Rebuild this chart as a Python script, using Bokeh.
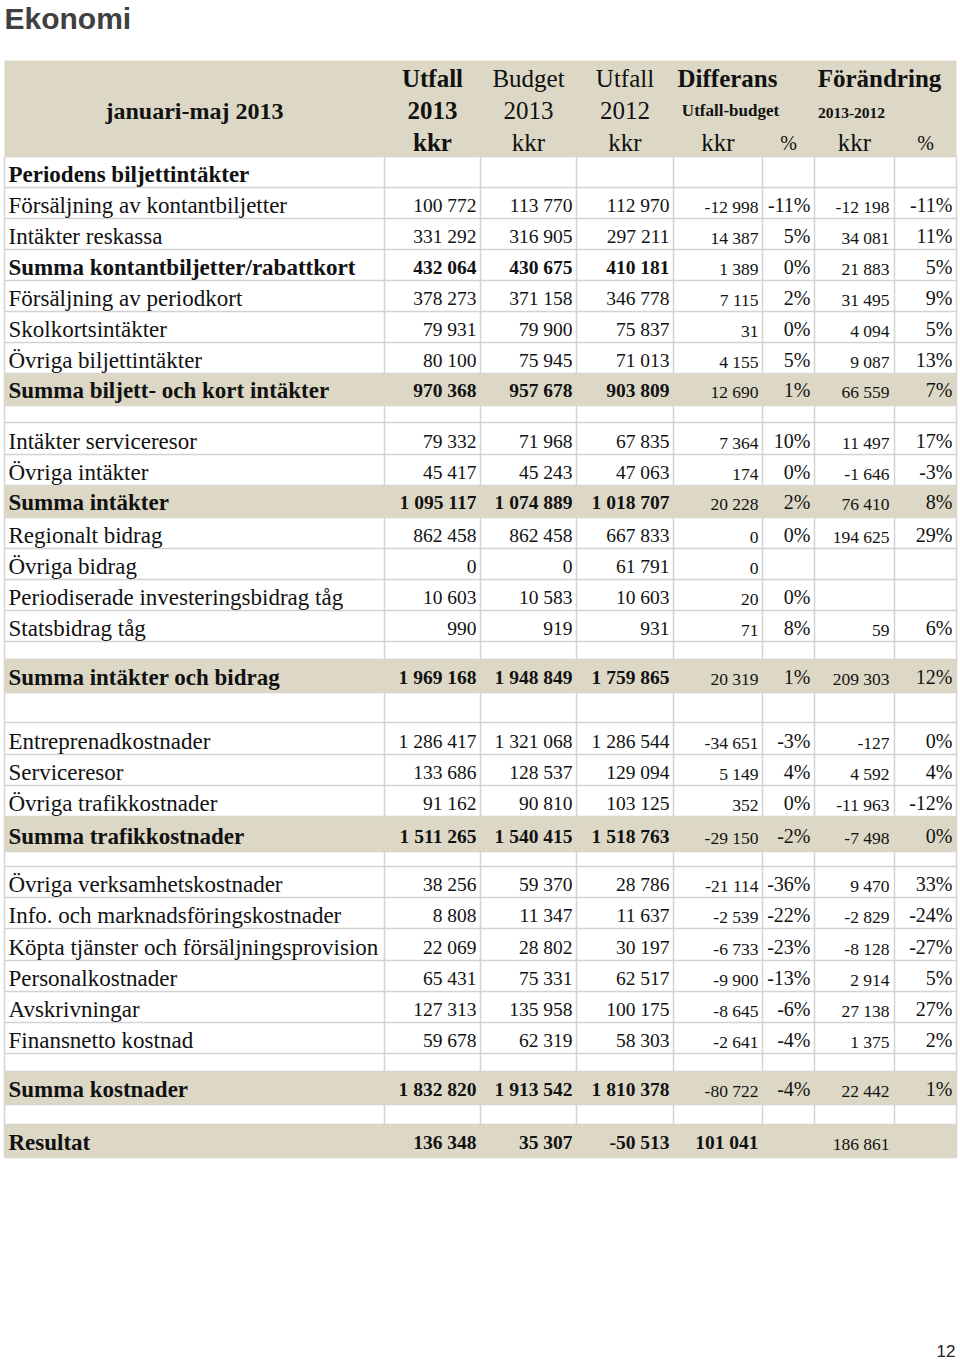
from bokeh.plotting import figure
from bokeh.models import ColumnDataSource, Range1d
from bokeh.core.properties import value
from bokeh.embed import file_html
from bokeh.resources import INLINE

# ---------------- data ----------------
page_title = "Ekonomi"
period_label = "januari-maj 2013"
page_number = "12"

head_line1 = ["Utfall", "Budget", "Utfall", "Differans", "Förändring"]
head_line2 = ["2013", "2013", "2012", "Utfall-budget", "2013-2012"]
head_line3 = ["kkr", "kkr", "kkr", "kkr", "%", "kkr", "%"]

labels = [
    "Periodens  biljettintäkter",
    "Försäljning av kontantbiljetter",
    "Intäkter reskassa",
    "Summa kontantbiljetter/rabattkort",
    "Försäljning av periodkort",
    "Skolkortsintäkter",
    "Övriga biljettintäkter",
    "Summa biljett- och kort intäkter",
    "",
    "Intäkter serviceresor",
    "Övriga intäkter",
    "Summa intäkter",
    "Regionalt bidrag",
    "Övriga bidrag",
    "Periodiserade investeringsbidrag tåg",
    "Statsbidrag tåg",
    "",
    "Summa intäkter och bidrag",
    "",
    "Entreprenadkostnader",
    "Serviceresor",
    "Övriga trafikkostnader",
    "Summa trafikkostnader",
    "",
    "Övriga verksamhetskostnader",
    "Info. och marknadsföringskostnader",
    "Köpta tjänster och försäljningsprovision",
    "Personalkostnader",
    "Avskrivningar",
    "Finansnetto kostnad",
    "",
    "Summa kostnader",
    "",
    "Resultat",
]
# row kind: head / row / bold / sum (shaded) / blank / result (shaded)
kinds = ["head", "row", "row", "bold", "row", "row", "row", "sum", "blank",
         "row", "row", "sum", "row", "row", "row", "row", "blank", "sum", "blank",
         "row", "row", "row", "sum", "blank", "row", "row", "row", "row", "row",
         "row", "blank", "sum", "blank", "result"]

utfall_2013 = [None, 100772, 331292, 432064, 378273, 79931, 80100, 970368, None,
               79332, 45417, 1095117, 862458, 0, 10603, 990, None, 1969168, None,
               1286417, 133686, 91162, 1511265, None, 38256, 8808, 22069, 65431,
               127313, 59678, None, 1832820, None, 136348]
budget_2013 = [None, 113770, 316905, 430675, 371158, 79900, 75945, 957678, None,
               71968, 45243, 1074889, 862458, 0, 10583, 919, None, 1948849, None,
               1321068, 128537, 90810, 1540415, None, 59370, 11347, 28802, 75331,
               135958, 62319, None, 1913542, None, 35307]
utfall_2012 = [None, 112970, 297211, 410181, 346778, 75837, 71013, 903809, None,
               67835, 47063, 1018707, 667833, 61791, 10603, 931, None, 1759865, None,
               1286544, 129094, 103125, 1518763, None, 28786, 11637, 30197, 62517,
               100175, 58303, None, 1810378, None, -50513]
diff_kkr = [None, -12998, 14387, 1389, 7115, 31, 4155, 12690, None,
            7364, 174, 20228, 0, 0, 20, 71, None, 20319, None,
            -34651, 5149, 352, -29150, None, -21114, -2539, -6733, -9900,
            -8645, -2641, None, -80722, None, 101041]
diff_pct = [None, -11, 5, 0, 2, 0, 5, 1, None,
            10, 0, 2, 0, None, 0, 8, None, 1, None,
            -3, 4, 0, -2, None, -36, -22, -23, -13,
            -6, -4, None, -4, None, None]
chg_kkr = [None, -12198, 34081, 21883, 31495, 4094, 9087, 66559, None,
           11497, -1646, 76410, 194625, None, None, 59, None, 209303, None,
           -127, 4592, -11963, -7498, None, 9470, -2829, -8128, 2914,
           27138, 1375, None, 22442, None, 186861]
chg_pct = [None, -11, 11, 5, 9, 5, 13, 7, None,
           17, -3, 8, 29, None, None, 6, None, 12, None,
           0, 4, -12, 0, None, 33, -24, -27, 5,
           27, 2, None, 1, None, None]

# ---------------- layout ----------------
W, H = 960, 1362
SERIF = "Liberation Serif"
SANS = "Liberation Sans"
INK = "#111111"
SHADE = "#DDD8C6"
GRID = "#D3D3D3"

col_edges = [4, 384, 480, 576, 673, 762, 814, 894, 956]
HEADER_TOP, HEADER_BOTTOM = 60, 156
row_heights = [31, 31, 31, 31, 31, 31, 31, 32, 17, 32, 31, 32, 31, 31, 31, 31, 18,
               33, 30, 32, 31, 31, 35, 15, 31, 31, 32, 31, 31, 31, 18, 33, 20, 33]

bounds = [HEADER_BOTTOM]
for h in row_heights:
    bounds.append(bounds[-1] + h)
TABLE_BOTTOM = bounds[-1]


def fmt_num(v):
    s = f"{abs(v):,}".replace(",", " ")
    return ("-" if v < 0 else "") + s


def fmt_pct(v):
    return f"{v}%"


p = figure(width=W, height=H, x_range=Range1d(0, W), y_range=Range1d(H, 0),
           output_backend="svg", toolbar_location=None, min_border=0,
           x_axis_type=None, y_axis_type=None)
p.outline_line_color = None
p.background_fill_color = "white"
p.border_fill_color = "white"
p.xgrid.visible = False
p.ygrid.visible = False

# grid lines
seg = dict(x0=[], y0=[], x1=[], y1=[])
for xe in col_edges:
    seg["x0"].append(xe); seg["x1"].append(xe)
    seg["y0"].append(HEADER_BOTTOM); seg["y1"].append(TABLE_BOTTOM)
for yb in bounds:
    seg["x0"].append(col_edges[0]); seg["x1"].append(col_edges[-1])
    seg["y0"].append(yb); seg["y1"].append(yb)
p.segment(x0="x0", y0="y0", x1="x1", y1="y1", source=ColumnDataSource(seg),
          line_color=GRID, line_width=1.5)

# shaded bands
qd = dict(left=[col_edges[0]], right=[col_edges[-1]], top=[HEADER_TOP], bottom=[HEADER_BOTTOM])
for i, k in enumerate(kinds):
    if k in ("sum", "result"):
        qd["left"].append(col_edges[0]); qd["right"].append(col_edges[-1])
        qd["top"].append(bounds[i]); qd["bottom"].append(bounds[i + 1])
p.quad(left="left", right="right", top="top", bottom="bottom", source=ColumnDataSource(qd),
       fill_color=SHADE, line_color=None)

# texts (y = vertical middle of the text)
T = dict(x=[], y=[], text=[], font=[], size=[], style=[], align=[], color=[])


def put(x, y, s, size, style="normal", align="right", font=SERIF, color=INK):
    T["x"].append(x); T["y"].append(y); T["text"].append(s)
    T["font"].append(font); T["size"].append(size); T["style"].append(style)
    T["align"].append(align); T["color"].append(color)


put(4, 18, page_title, "30px", "bold", "left", SANS, "#404040")
put(955, 1350, page_number, "17px", "normal", "right", SANS, "#222222")

# header
put(194, 110, period_label, "24px", "bold", "center")
centers = [(col_edges[j] + col_edges[j + 1]) / 2 for j in range(len(col_edges) - 1)]
for j in range(3):
    st = "bold" if j == 0 else "normal"
    put(centers[j + 1], 78, head_line1[j], "25px", st, "center")
    put(centers[j + 1], 110, head_line2[j], "25px", st, "center")
put(727, 78, head_line1[3], "25px", "bold", "center")
put(730, 110, head_line2[3], "17px", "bold", "center")
put(879, 78, head_line1[4], "25px", "bold", "center")
put(851, 112, head_line2[4], "15.5px", "bold", "center")
for j, s in enumerate(head_line3):
    if s == "%":
        put(centers[j + 1], 142, s, "20px", "normal", "center")
    else:
        put(centers[j + 1], 142, s, "25px", "bold" if j == 0 else "normal", "center")

right_x = [476, 572, 669, 758, 810, 889, 952]
for i, k in enumerate(kinds):
    if k == "blank":
        continue
    shaded = k in ("sum", "result")
    bot = bounds[i + 1]
    mid = bot - (15.5 if shaded else 13.5)
    mid_small = mid + 2
    bold_lbl = k in ("head", "bold", "sum", "result")
    put(8, mid, labels[i], "23px", "bold" if bold_lbl else "normal", "left")
    bold_val = "bold" if k in ("bold", "sum", "result") else "normal"
    for j, arr in enumerate([utfall_2013, budget_2013, utfall_2012]):
        if arr[i] is not None:
            put(right_x[j], mid, fmt_num(arr[i]), "19.5px", bold_val)
    if diff_kkr[i] is not None:
        if k == "result":
            put(right_x[3], mid, fmt_num(diff_kkr[i]), "19.5px", "bold")
        else:
            put(right_x[3], mid_small, fmt_num(diff_kkr[i]), "17.5px")
    if diff_pct[i] is not None:
        put(right_x[4], mid, fmt_pct(diff_pct[i]), "20px")
    if chg_kkr[i] is not None:
        put(right_x[5], mid_small, fmt_num(chg_kkr[i]), "17.5px")
    if chg_pct[i] is not None:
        put(right_x[6], mid, fmt_pct(chg_pct[i]), "20px")

p.text(x="x", y="y", text="text", source=ColumnDataSource(T),
       text_font="font", text_font_size="size", text_font_style="style",
       text_align="align", text_baseline=value("middle"), text_color="color")

open("out.html", "w").write(file_html(p, INLINE))
